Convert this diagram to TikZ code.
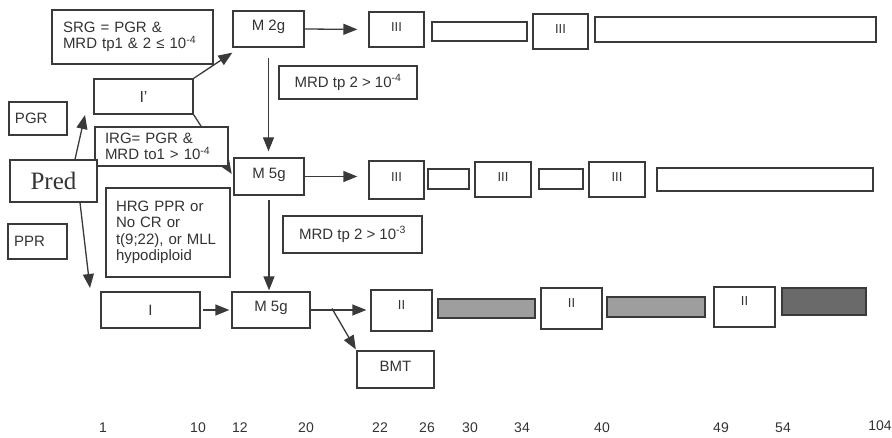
\documentclass[tikz,border=0pt]{standalone}
\usepackage{fontspec}
\setmainfont{Liberation Sans}
\newfontfamily\predfont{Liberation Serif}
\usetikzlibrary{arrows.meta,backgrounds}
\definecolor{lc}{HTML}{3A3A3A}
\definecolor{tc}{HTML}{333333}
\definecolor{gfill}{HTML}{9E9E9E}
\definecolor{dfill}{HTML}{6A6A6A}
\tikzset{
  bx/.style={draw=lc, line width=1.3pt, fill=white, inner sep=0pt, text=tc,
    font=\fontsize{15}{16.5}\selectfont},
  txbox/.style={bx, align=left, text width=#1},
  topish/.style={text height=10pt, text depth=6pt},
  roman/.style={font=\fontsize{13}{15}\selectfont},
  arr/.style={draw=lc, line width=1.3pt, -{Triangle[length=14pt,width=11pt]}},
  axnum/.style={text=tc, inner sep=0pt, font=\fontsize{14}{16}\selectfont},
}
\begin{document}
\begin{tikzpicture}[x=1pt,y=-1pt]
\useasboundingbox (0,0) rectangle (892,438);
% row 1
\node[txbox=139pt, minimum width=161pt, minimum height=54pt] (srg) at (132.5,37)
  {SRG = PGR \&\\MRD tp1 \& 2 ≤ 10\textsuperscript{-4}};
\node[bx, topish, minimum width=71pt, minimum height=36pt] (m2g) at (268.5,29) {M 2g};
\node[bx, topish, roman, minimum width=55pt, minimum height=35pt] (iiiA) at (396.5,29.5) {III};
\node[bx, minimum width=95pt, minimum height=19pt] (rA) at (479.5,31.5) {};
\node[bx, topish, roman, minimum width=55pt, minimum height=35pt] (iiiB) at (560.5,31.5) {III};
\node[bx, minimum width=281pt, minimum height=25pt] (rB) at (735.5,29.5) {};
\node[bx, font=\fontsize{16}{18}\selectfont, minimum width=99pt, minimum height=35pt] (ip) at (143.5,96.5) {I’};
\node[bx, minimum width=138pt, minimum height=33pt] (mrd4) at (348,82.5) {MRD tp 2 > 10\textsuperscript{-4}};
\node[txbox=46pt, minimum width=58pt, minimum height=33pt] (pgr) at (38,118.5) {PGR};
% row 2
\node[txbox=113pt, minimum width=133pt, minimum height=39pt] (irg) at (161.5,146.5)
  {IRG= PGR \&\\MRD to1 > 10\textsuperscript{-4}};
\node[bx, font=\fontsize{25}{28}\selectfont\predfont, minimum width=87pt, minimum height=42pt] (pred) at (53.5,181) {Pred};
\node[bx, topish, minimum width=70pt, minimum height=37pt] (m5a) at (269,176.5) {M 5g};
\node[bx, topish, roman, minimum width=55pt, minimum height=38pt] (iiiC) at (396.5,180) {III};
\node[bx, minimum width=41pt, minimum height=20pt] (rC) at (448.5,179) {};
\node[bx, topish, roman, minimum width=56pt, minimum height=35pt] (iiiD) at (503,179.5) {III};
\node[bx, minimum width=44pt, minimum height=20pt] (rD) at (561,179) {};
\node[bx, topish, roman, minimum width=56pt, minimum height=35pt] (iiiE) at (617,179.5) {III};
\node[bx, minimum width=216pt, minimum height=23pt] (rE) at (765,179.5) {};
\node[txbox=104pt, minimum width=124pt, minimum height=89pt] (hrg) at (168,232.5)
  {HRG PPR or\\No CR or\\t(9;22), or MLL\\hypodiploid};
\node[txbox=47pt, minimum width=59pt, minimum height=35pt] (ppr) at (37.5,241.5) {PPR};
\node[bx, minimum width=139pt, minimum height=37pt] (mrd3) at (352.5,234.5) {MRD tp 2 > 10\textsuperscript{-3}};
% row 3
\node[bx, font=\fontsize{15}{17}\selectfont, minimum width=99pt, minimum height=36pt] (one) at (150.5,310) {I};
\node[bx, topish, minimum width=78pt, minimum height=36pt] (m5b) at (271,310) {M 5g};
\node[bx, topish, roman, text depth=12pt, minimum width=61pt, minimum height=41pt] (iiA) at (401.5,310.5) {II};
\node[bx, fill=gfill, minimum width=97pt, minimum height=19pt] (gA) at (486.5,308.5) {};
\node[bx, topish, roman, text depth=12pt, minimum width=61pt, minimum height=41pt] (iiB) at (571.5,308.5) {II};
\node[bx, fill=gfill, minimum width=98pt, minimum height=20pt] (gB) at (656,307) {};
\node[bx, topish, roman, text depth=12pt, minimum width=61pt, minimum height=40pt] (iiC) at (744.5,307) {II};
\node[bx, fill=dfill, minimum width=84pt, minimum height=27pt] (gC) at (824,301.5) {};
\node[bx, topish, minimum width=77pt, minimum height=37pt] (bmt) at (395.5,369.5) {BMT};
% free arrow ends
\coordinate (pgrtip) at (85,115);
\coordinate (onetip) at (90,288);
\coordinate (split) at (332,308.5);
% connectors
\begin{pgfonlayer}{background}
\draw[arr] (ip.north east) -- ([yshift=-5pt]m2g.south west);
\draw[arr, shorten >=3pt] (ip.south east) -- (m5a.west);
\end{pgfonlayer}
\draw[arr, shorten >=11pt] (m2g.east) -- (iiiA.west);
\draw[arr, shorten <=10pt, shorten >=6pt] (m2g.south) -- (m2g.south |- m5a.north);
\draw[arr, shorten >=11pt] (m5a.east) -- (m5a.east -| iiiC.west);
\draw[arr] ([xshift=21.5pt]pred.north) -- (pgrtip);
\draw[arr] ([xshift=26.5pt]pred.south) -- (onetip);
\draw[arr, shorten <=4pt, shorten >=1pt] (m5a.south) -- (m5a.south |- m5b.north);
\draw[arr, shorten <=2pt, shorten >=2pt] (one.east) -- (m5b.west);
\draw[arr, shorten >=4pt] (m5b.east) -- (m5b.east -| iiA.west);
\draw[arr, shorten >=1pt] (split) -- (bmt.north west);
% axis numbers
\node[axnum] (t1) at (103,428) {1};
\node[axnum] (t10) at (198,428) {10};
\node[axnum] (t12) at (240,428) {12};
\node[axnum] (t20) at (306,428) {20};
\node[axnum] (t22) at (380,428) {22};
\node[axnum] (t26) at (427,428) {26};
\node[axnum] (t30) at (470,428) {30};
\node[axnum] (t34) at (522,428) {34};
\node[axnum] (t40) at (602,428) {40};
\node[axnum] (t49) at (721,428) {49};
\node[axnum] (t54) at (783,428) {54};
\node[axnum] (t104) at (880,426) {104};
\end{tikzpicture}
\end{document}
